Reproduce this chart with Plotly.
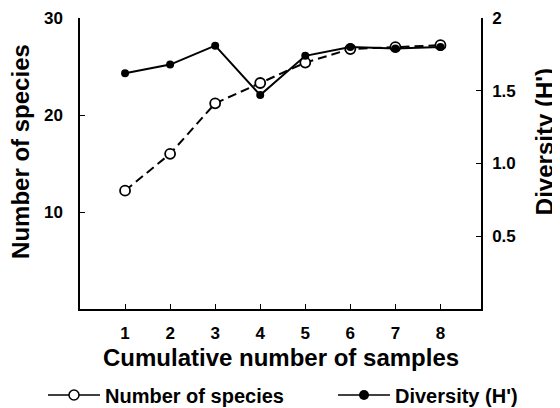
import plotly.graph_objects as go

samples = [1, 2, 3, 4, 5, 6, 7, 8]
species = [12.2, 16.0, 21.2, 23.3, 25.4, 26.8, 27.0, 27.2]
diversity = [1.62, 1.68, 1.81, 1.47, 1.74, 1.80, 1.79, 1.80]
x_ticks = [1, 2, 3, 4, 5, 6, 7, 8]
left_ticks = [10, 20, 30]
right_ticks = [0.5, 1.0, 1.5, 2]
right_tick_text = ["0.5", "1.0", "1.5", "2"]

FONT = "Liberation Sans, Arial, sans-serif"

fig = go.Figure()

fig.add_trace(go.Scatter(
    x=samples, y=species, mode="lines+markers", showlegend=False,
    line=dict(color="black", width=2, dash="9px,5px"),
    marker=dict(symbol="circle", size=10, color="white", line=dict(width=1.8, color="black")),
))
fig.add_trace(go.Scatter(
    x=samples, y=diversity, mode="lines+markers", showlegend=False, yaxis="y2",
    line=dict(color="black", width=2),
    marker=dict(symbol="circle", size=8, color="black"),
))
fig.add_trace(go.Scatter(
    x=[None], y=[None], mode="lines+markers", name="Number of species", legend="legend",
    line=dict(color="black", width=1.5),
    marker=dict(symbol="circle", size=10, color="white", line=dict(width=1.5, color="black")),
))
fig.add_trace(go.Scatter(
    x=[None], y=[None], mode="lines+markers", name="Diversity (H')", legend="legend2",
    line=dict(color="black", width=1.5),
    marker=dict(symbol="circle", size=10, color="black"),
))

axis_common = dict(
    ticks="inside", ticklen=5, tickwidth=1, tickcolor="black",
    showline=True, linecolor="black", linewidth=1.5,
    showgrid=False, zeroline=False, tickfont=dict(size=17), automargin=False,
)

legend_common = dict(
    orientation="h", xref="container", yref="container", y=1 - 387 / 408,
    xanchor="left", yanchor="middle", font=dict(size=20), itemwidth=52,
    bgcolor="rgba(0,0,0,0)",
)

fig.update_layout(
    width=560, height=408,
    margin=dict(l=72, r=87, t=10, b=107),
    paper_bgcolor="white", plot_bgcolor="white",
    font=dict(family=FONT, color="black", size=17, weight="bold"),
    xaxis=dict(range=[0, 8.9], tickvals=x_ticks, ticklabelstandoff=8, **axis_common),
    yaxis=dict(range=[0, 30], tickvals=left_ticks, ticklabelstandoff=12, **axis_common),
    yaxis2=dict(range=[0, 2], tickvals=right_ticks, ticktext=right_tick_text,
                overlaying="y", side="right", ticklabelstandoff=6, **axis_common),
    legend=dict(x=35 / 560, **legend_common),
    legend2=dict(x=325 / 560, **legend_common),
    showlegend=True,
)

fig.add_annotation(text="Cumulative number of samples", xref="paper", yref="paper",
                   x=0.5, y=-0.168, xanchor="center", yanchor="middle",
                   showarrow=False, font=dict(size=24))
fig.add_annotation(text="Number of species", xref="paper", yref="paper",
                   x=-0.147, y=0.54, textangle=-90, showarrow=False,
                   xanchor="center", yanchor="middle", font=dict(size=24))
fig.add_annotation(text="Diversity (H')", xref="paper", yref="paper",
                   x=1.160, y=0.574, textangle=-90, showarrow=False,
                   xanchor="center", yanchor="middle", font=dict(size=24))

fig.write_html("out.html")
